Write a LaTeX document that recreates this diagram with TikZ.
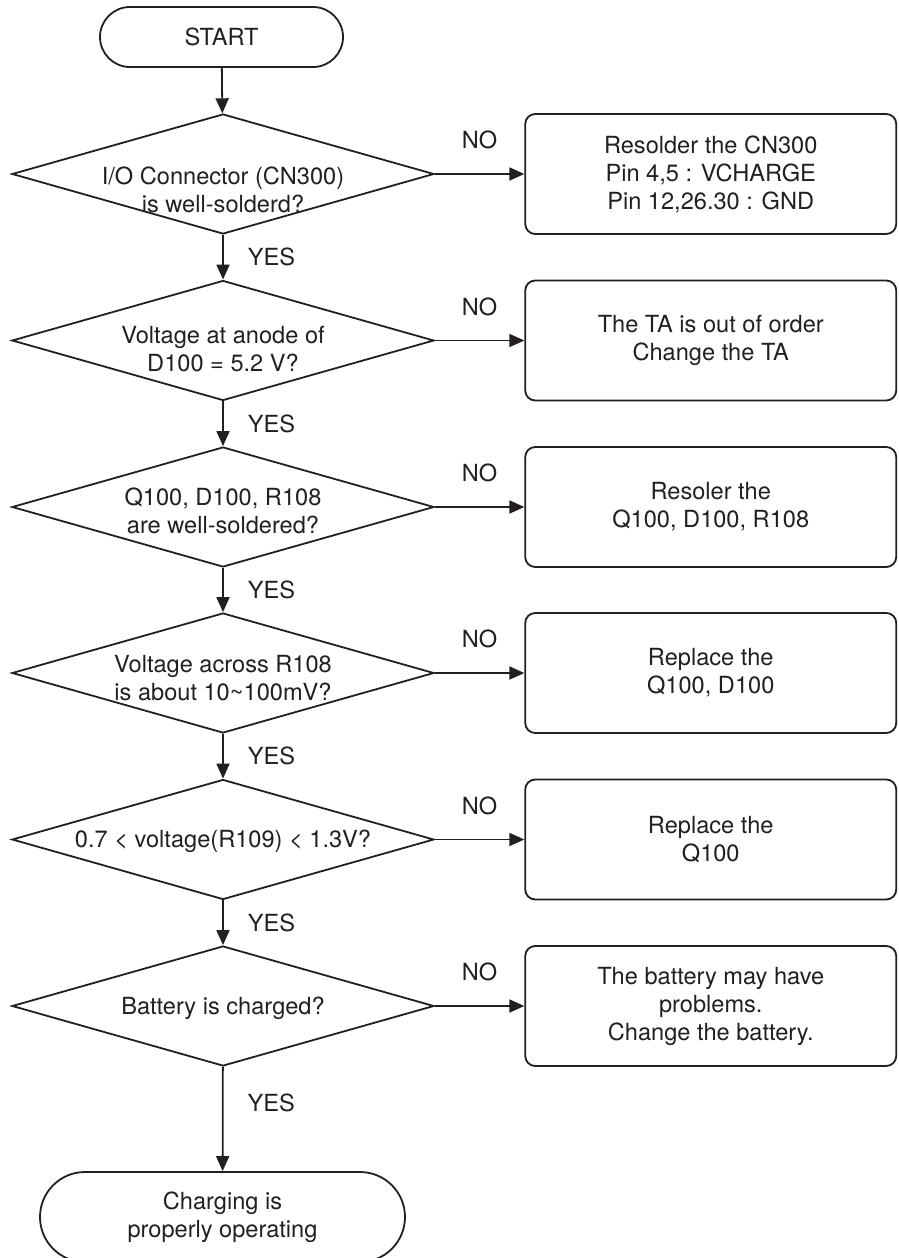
\documentclass[tikz,border=0pt]{standalone}
\usepackage{fontspec}
\setmainfont{TeX Gyre Heros}
\usetikzlibrary{shapes.geometric,shapes.misc,arrows.meta}
\definecolor{ink}{HTML}{231F20}
\begin{document}
\begin{tikzpicture}[x=1pt,y=-1pt,
  every node/.style={font=\fontsize{23.6}{28}\selectfont, text=ink},
  line/.style={draw=ink, line width=1.8},
  arr/.style={line, -{Triangle[length=15,width=13]}},
  term/.style={rounded rectangle, draw=ink, line width=1.8, inner sep=0, align=center},
  dia/.style={diamond, draw=ink, line width=1.8, minimum width=422, minimum height=120, inner sep=0},
  txt/.style={align=center, inner sep=0},
  act/.style={rectangle, rounded corners=10, draw=ink, line width=1.8, minimum width=371, minimum height=120, align=center, inner sep=0},
  lab/.style={inner sep=0}]
\useasboundingbox (0,0) rectangle (898,1258);
\clip (0,0) rectangle (898,1258);

\node[term, minimum width=243, minimum height=60] (start) at (221.5,37) {START};

\node[dia] (d1) at (223,174) {};
\node[dia] (d2) at (223,340.5) {};
\node[dia] (d3) at (223,507) {};
\node[dia] (d4) at (223,673) {};
\node[dia] (d5) at (223,839.5) {};
\node[dia] (d6) at (223,1006) {};

\node[txt] (t1) at (223,189.5) {I/O Connector (CN300)\\is well-solderd?};
\node[txt] (t2) at (223,349) {Voltage at anode of\\D100 = 5.2 V?};
\node[txt] (t3) at (223,511) {Q100, D100, R108\\are well-soldered?};
\node[txt] (t4) at (223,678) {Voltage across R108\\is about 10\textasciitilde100mV?};
\node[txt] (t5) at (223,841) {0.7 < voltage(R109) < 1.3V?};
\node[txt] (t6) at (223,1008) {Battery is charged?};

\node[act] (b1) at (710.75,174) {Resolder the CN300\\Pin 4,5 : VCHARGE\\Pin 12,26.30 : GND};
\node[act] (b2) at (710.75,340.5) {The TA is out of order\\Change the TA};
\node[act] (b3) at (710.75,507) {Resoler the\\Q100, D100, R108};
\node[act] (b4) at (710.75,673) {Replace the\\Q100, D100};
\node[act] (b5) at (710.75,839.5) {Replace the\\Q100};
\node[act] (b6) at (710.75,1006) {The battery may have\\problems.\\Change the battery.};

\node[term, minimum width=365, minimum height=90] (end) at (222.5,1217) {Charging is\\properly operating};

\draw[arr] (start) -- (d1);
\draw[arr] (d1) -- node[lab, pos=0.5, right=24pt] (y1) {YES} (d2);
\draw[arr] (d2) -- node[lab, pos=0.5, right=24pt] (y2) {YES} (d3);
\draw[arr] (d3) -- node[lab, pos=0.5, right=24pt] (y3) {YES} (d4);
\draw[arr] (d4) -- node[lab, pos=0.5, right=24pt] (y4) {YES} (d5);
\draw[arr] (d5) -- node[lab, pos=0.5, right=24pt] (y5) {YES} (d6);
\draw[arr] (d6) -- node[lab, pos=0.35, right=24pt] (y6) {YES} (end);

\foreach \i in {1,...,6}{
  \draw[arr] (d\i.east) -- node[lab, above=24pt] (n\i) {NO} (b\i.west);
}
\end{tikzpicture}
\end{document}
